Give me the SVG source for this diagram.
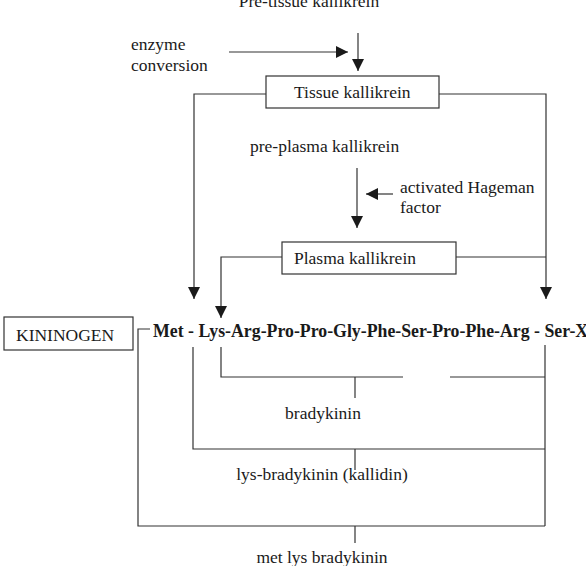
<svg xmlns="http://www.w3.org/2000/svg" width="586" height="566" viewBox="0 0 586 566">
<style>
text{font-family:"Liberation Serif","Times New Roman",serif;font-size:17.5px;fill:#1a1a1a}
.b{font-weight:bold;font-size:17.8px}
.c{text-anchor:middle}
.ln{fill:none;stroke:#333;stroke-width:1.2}
.box{fill:#fff;stroke:#333;stroke-width:1.2}
</style>
<defs>
<marker id="ah" viewBox="0 0 12 12" refX="12" refY="6" markerWidth="12" markerHeight="12" markerUnits="userSpaceOnUse" orient="auto">
<path d="M0,0 L12,6 L0,12 Z" fill="#1a1a1a"/>
</marker>
</defs>
<rect width="586" height="566" fill="#fff"/>
<g id="connectors">
<line class="ln" x1="229" y1="52" x2="348" y2="52" marker-end="url(#ah)"/>
<line class="ln" x1="358" y1="33" x2="358" y2="71" marker-end="url(#ah)"/>
<polyline class="ln" points="266,94 194,94 194,299" marker-end="url(#ah)"/>
<polyline class="ln" points="439,94 546,94 546,299" marker-end="url(#ah)"/>
<line class="ln" x1="357" y1="168" x2="357" y2="228" marker-end="url(#ah)"/>
<line class="ln" x1="393" y1="194" x2="366" y2="194" marker-end="url(#ah)"/>
<polyline class="ln" points="282,257 221,257 221,318" marker-end="url(#ah)"/>
<line class="ln" x1="456" y1="257" x2="546" y2="257"/>
<polyline class="ln" points="150,329 138,329 138,526 545,526"/>
<line class="ln" x1="545" y1="345" x2="545" y2="526"/>
<line class="ln" x1="355" y1="526" x2="355" y2="543"/>
<polyline class="ln" points="193,347 193,449 545,449"/>
<line class="ln" x1="355" y1="449" x2="355" y2="470"/>
<polyline class="ln" points="221,347 221,377 403,377"/>
<line class="ln" x1="450" y1="377" x2="545" y2="377"/>
<line class="ln" x1="355" y1="377" x2="355" y2="398"/>
</g>
<g id="pre-tissue"><text x="309" y="7" class="c">Pre-tissue kallikrein</text></g>
<g id="enzyme"><text x="131" y="50">enzyme</text><text x="131" y="71">conversion</text></g>
<g id="tissue"><rect class="box" x="266" y="76" width="173" height="32"/><text x="294" y="98">Tissue kallikrein</text></g>
<g id="pre-plasma"><text x="250" y="152">pre-plasma kallikrein</text></g>
<g id="hageman"><text x="400" y="193">activated Hageman</text><text x="400" y="213">factor</text></g>
<g id="plasma"><rect class="box" x="282" y="242" width="174" height="32"/><text x="294" y="264">Plasma kallikrein</text></g>
<g id="kininogen"><rect class="box" x="4" y="317" width="129" height="33"/><text x="16" y="341">KININOGEN</text></g>
<g id="sequence"><text class="b" x="153" y="337">Met - Lys-Arg-Pro-Pro-Gly-Phe-Ser-Pro-Phe-Arg - Ser-X</text></g>
<g id="bradykinin"><text x="323" y="419" class="c">bradykinin</text></g>
<g id="kallidin"><text x="322" y="480" class="c">lys-bradykinin (kallidin)</text></g>
<g id="metlys"><text x="322" y="563" class="c">met lys bradykinin</text></g>
</svg>
